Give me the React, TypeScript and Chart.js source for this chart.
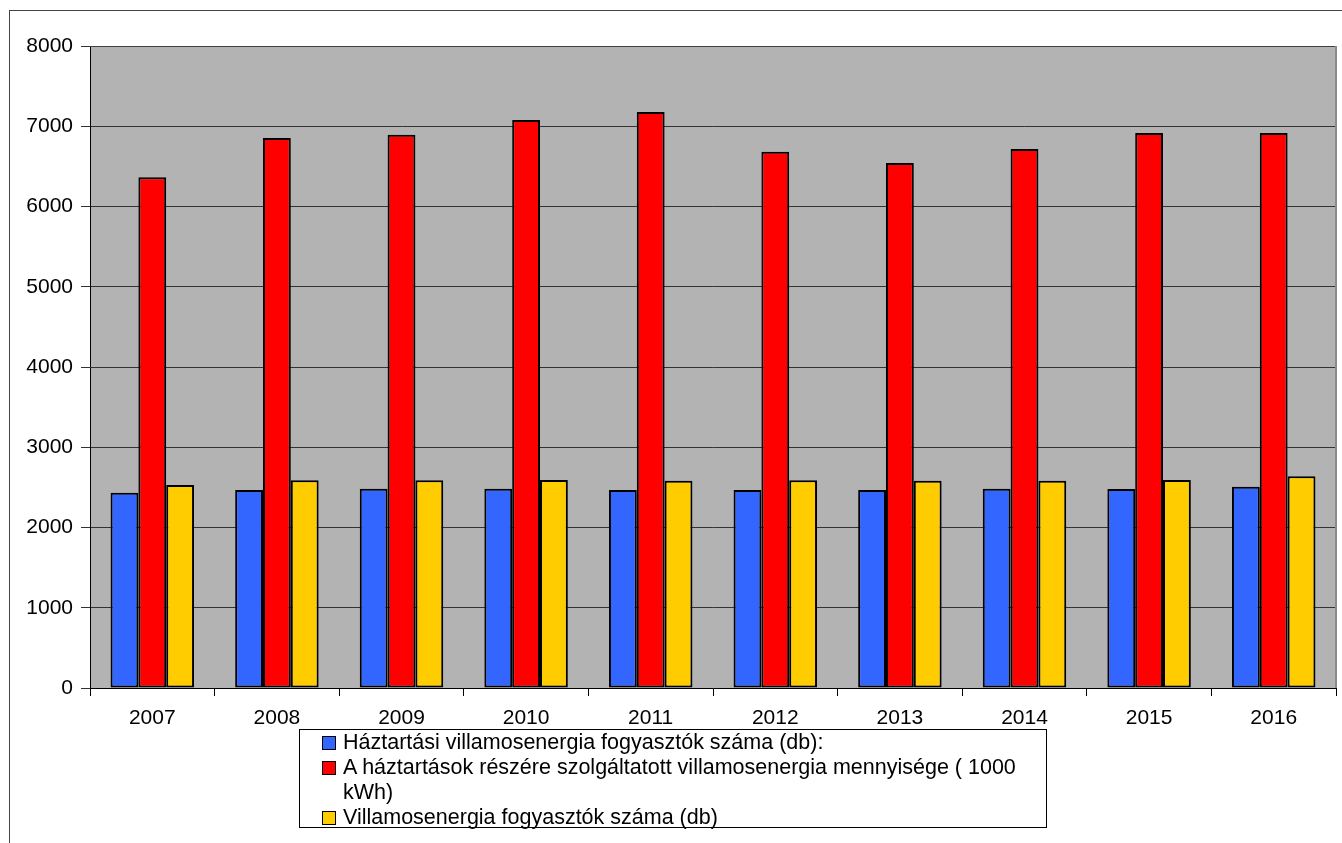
import React, { useEffect, useRef } from "react";
import { Chart, registerables } from "chart.js";

Chart.register(...registerables);

const years = ["2007", "2008", "2009", "2010", "2011", "2012", "2013", "2014", "2015", "2016"];
const fogyasztokHaztartasi = [2434, 2467, 2484, 2484, 2467, 2467, 2467, 2484, 2480, 2508];
const mennyiseg = [6364, 6854, 6895, 7078, 7178, 6683, 6542, 6717, 6916, 6916];
const fogyasztokOsszes = [2530, 2588, 2588, 2592, 2584, 2588, 2584, 2584, 2592, 2638];

const seriesLabels = [
  "Háztartási villamosenergia fogyasztók száma (db):",
  "A háztartások részére szolgáltatott villamosenergia mennyisége ( 1000 kWh)",
  "Villamosenergia fogyasztók száma (db)",
];
const seriesColors = ["#3366ff", "#ff0000", "#ffcc00"];

const FONT = "'Liberation Sans', Arial, sans-serif";

const plotBg = {
  id: "plotBg",
  beforeDraw(chart: any) {
    const { ctx, chartArea: a } = chart;
    ctx.save();
    ctx.fillStyle = "#b3b3b3";
    ctx.fillRect(a.left, a.top, a.right - a.left, a.bottom - a.top);
    ctx.restore();
  },
  afterDraw(chart: any) {
    const { ctx, chartArea: a } = chart;
    ctx.save();
    ctx.strokeStyle = "#404040";
    ctx.lineWidth = 1;
    ctx.beginPath();
    ctx.moveTo(a.left, a.top + 0.5);
    ctx.lineTo(a.right, a.top + 0.5);
    ctx.stroke();
    ctx.strokeStyle = "#8a8a8a";
    ctx.lineWidth = 2;
    ctx.beginPath();
    ctx.moveTo(a.right, a.top);
    ctx.lineTo(a.right, a.bottom);
    ctx.stroke();
    ctx.restore();
  },
};

export default function App() {
  const ref = useRef<HTMLCanvasElement>(null);

  useEffect(() => {
    document.body.style.margin = "0";
    document.body.style.overflow = "hidden";
    const chart = new Chart(ref.current!, {
      type: "bar",
      data: {
        labels: years,
        datasets: [
          { label: seriesLabels[0], data: fogyasztokHaztartasi, backgroundColor: seriesColors[0] },
          { label: seriesLabels[1], data: mennyiseg, backgroundColor: seriesColors[1] },
          { label: seriesLabels[2], data: fogyasztokOsszes, backgroundColor: seriesColors[2] },
        ].map((d) => ({ ...d, borderColor: "#000", borderWidth: 2, borderSkipped: false })),
      },
      options: {
        animation: false,
        responsive: false,
        maintainAspectRatio: false,
        layout: { padding: { left: 0, top: 46, right: 6, bottom: 0 } },
        datasets: { bar: { categoryPercentage: 0.67, barPercentage: 1 } },
        plugins: { legend: { display: false }, tooltip: { enabled: false } },
        scales: {
          x: {
            grid: { display: true, drawOnChartArea: false, drawTicks: true, tickLength: 8, color: "#000", offset: true },
            border: { display: true, color: "#000", width: 1 },
            ticks: { color: "#000", font: { family: FONT, size: 21 }, padding: 10 },
            afterFit(scale: any) {
              scale.height = 843 - 688;
            },
          },
          y: {
            min: 0,
            max: 8000,
            ticks: {
              stepSize: 1000,
              color: "#000",
              font: { family: FONT, size: 21 },
              padding: 8,
              callback: (v: any) => String(v),
            },
            grid: { color: "#333", tickColor: "#333", tickLength: 9, lineWidth: 1 },
            border: { display: true, color: "#000", width: 1 },
            afterFit(scale: any) {
              scale.width = 90;
            },
          },
        },
      },
      plugins: [plotBg],
    });
    return () => chart.destroy();
  }, []);

  const legendLines: React.ReactNode[] = [
    seriesLabels[0],
    <>
      A háztartások részére szolgáltatott villamosenergia mennyisége ( 1000
      <br />
      kWh)
    </>,
    seriesLabels[2],
  ];

  return (
    <div style={{ position: "relative", width: 1342, height: 843, overflow: "hidden", background: "#fff" }}>
      <div
        style={{
          position: "absolute",
          left: 9,
          top: 10,
          width: 2000,
          height: 2000,
          borderLeft: "1px solid #444",
          borderTop: "1px solid #444",
        }}
      />
      <canvas ref={ref} width={1342} height={843} style={{ position: "absolute", left: 0, top: 0, width: 1342, height: 843 }} />
      <div
        style={{
          position: "absolute",
          left: 299,
          top: 729,
          width: 746,
          height: 97,
          border: "1px solid #000",
          background: "#fff",
          fontFamily: FONT,
          fontSize: 21.5,
          lineHeight: "25px",
          color: "#000",
          boxSizing: "content-box",
        }}
      >
        {legendLines.map((txt, i) => (
          <div key={i} style={{ display: "flex", alignItems: "flex-start" }}>
            <div
              style={{
                width: 12,
                height: 12,
                background: seriesColors[i],
                border: "1px solid #000",
                marginLeft: 22,
                marginTop: 6,
                marginRight: 7,
                flex: "none",
              }}
            />
            <div style={{ whiteSpace: "nowrap" }}>{txt}</div>
          </div>
        ))}
      </div>
    </div>
  );
}
